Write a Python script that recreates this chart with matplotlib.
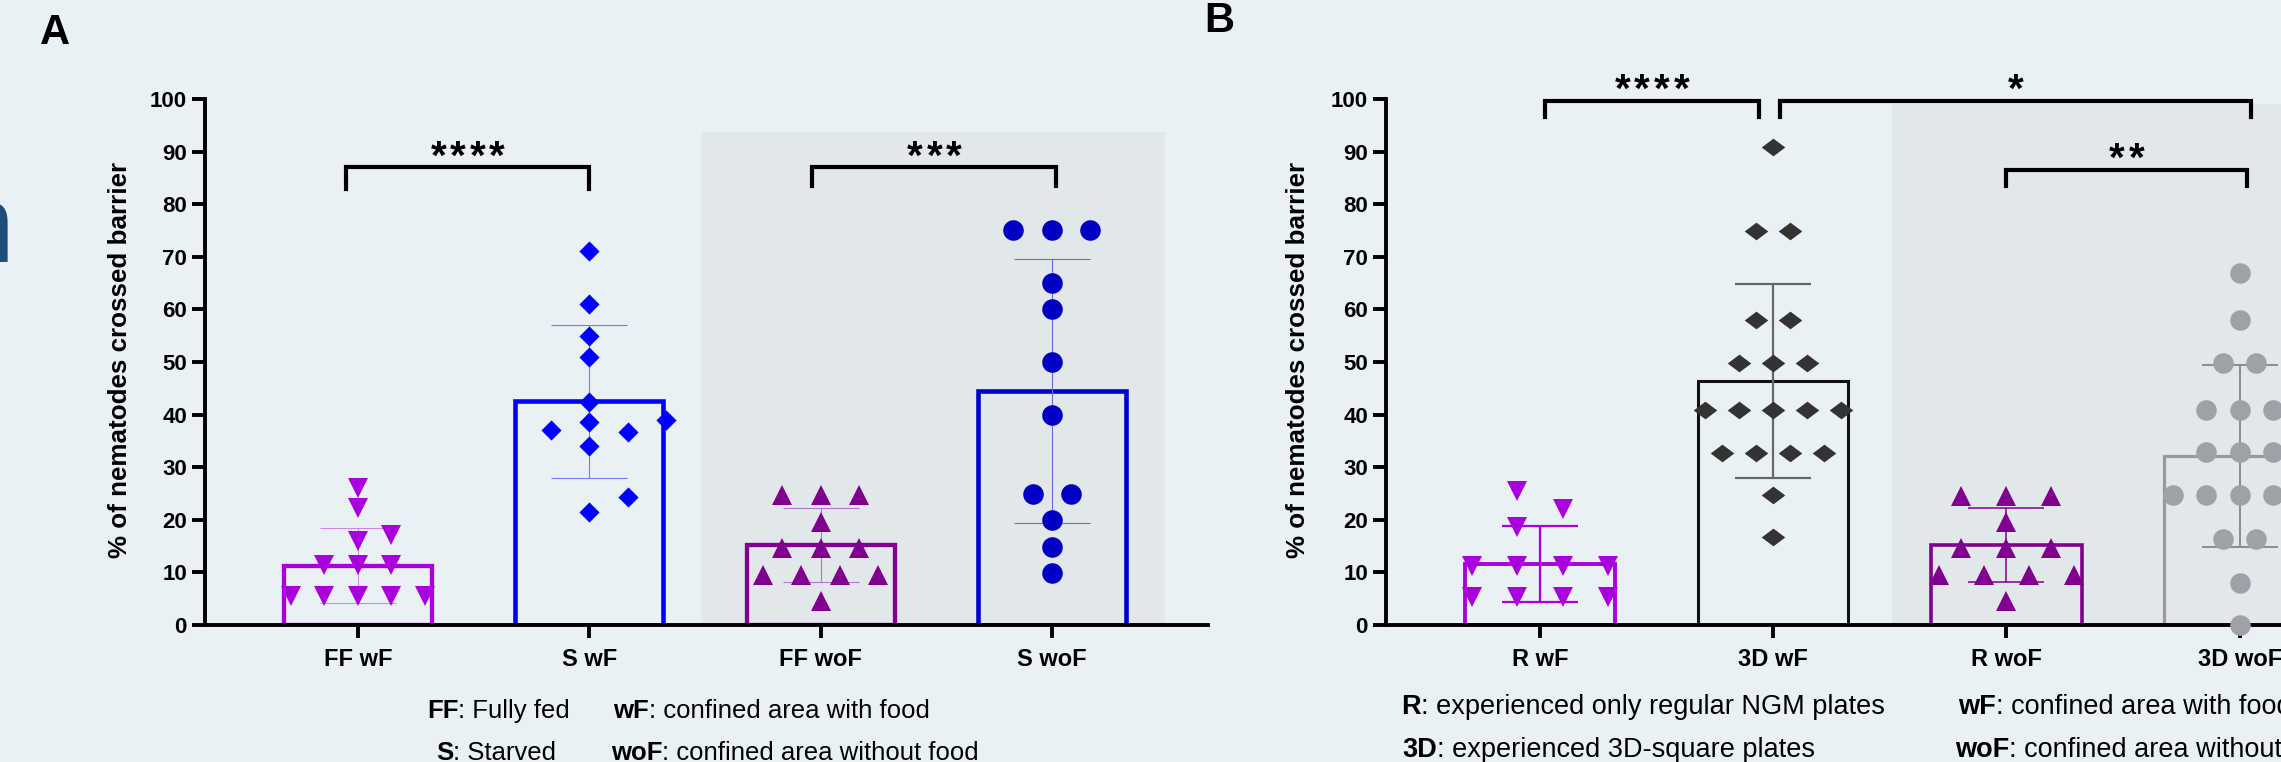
import numpy as np
import matplotlib
matplotlib.use('Agg')
import matplotlib.pyplot as plt
from matplotlib.patches import Rectangle

plt.rcParams['font.family'] = ['Liberation Sans', 'DejaVu Sans']

W, H = 2281, 762

# ---- panel A: fully fed / starved, with / without food ----
a_cats = ['FF wF', 'S wF', 'FF woF', 'S woF']
a_means = [11.3, 42.5, 15.2, 44.4]
a_sd = [7.2, 14.6, 7.0, 25.1]
a_ff_wf = [26.0, 22.2, 17.2, 16.0, 11.4, 11.4, 11.4, 5.5, 5.5, 5.5, 5.5, 5.5]
a_s_wf = [71.1, 61.0, 55.0, 51.0, 42.4, 39.0, 38.6, 37.0, 36.7, 34.0, 24.4, 21.4]
a_ff_wof = [24.8, 24.8, 24.8, 19.5, 14.6, 14.6, 14.6, 9.5, 9.5, 9.5, 9.5, 4.5]
a_s_wof = [75.1, 75.1, 75.1, 65.1, 60.1, 50.0, 40.0, 24.9, 24.9, 19.9, 14.9, 9.8]
a_sig = [(0, 1, 87.0, 4), (2, 3, 87.0, 3)]

# ---- panel B: regular vs 3D-square plates ----
b_cats = ['R wF', '3D wF', 'R woF', '3D woF']
b_means = [11.6, 46.4, 15.2, 32.2]
b_sd = [7.3, 18.5, 7.0, 17.3]
b_r_wf = [25.5, 22.0, 18.6, 11.2, 11.2, 11.2, 11.2, 5.4, 5.4, 5.4, 5.4]
b_3d_wf = [90.9, 74.9, 74.9, 57.9, 57.9, 49.9, 49.9, 49.9, 40.8, 40.8, 40.8, 40.8, 40.8,
           32.7, 32.7, 32.7, 32.7, 24.8, 16.7]
b_r_wof = [24.6, 24.6, 24.6, 19.5, 14.6, 14.6, 14.6, 9.5, 9.5, 9.5, 9.5, 4.5]
b_3d_wof = [66.9, 57.9, 49.8, 49.8, 40.9, 40.9, 40.9, 32.9, 32.9, 32.9,
            24.7, 24.7, 24.7, 24.7, 24.7, 16.4, 16.4, 7.9, 0.0]
b_sig = [(0, 1, 99.7, 4), (1, 3, 99.7, 1), (2, 3, 86.5, 2)]


def swarm(vals, step, half=False, thr=3.6):
    # spread points sideways like a column scatter: equal values make a centred row,
    # a lone point moves to the nearest free slot if it would sit on a neighbour
    vals = np.asarray(vals, float)
    offs = np.zeros(len(vals))
    placed = []
    k = np.arange(1, 6)
    if half:
        slots = np.ravel(np.column_stack([-(k - 0.5), k - 0.5]))
    else:
        slots = np.concatenate([[0], np.ravel(np.column_stack([k, -k]))])
    for v in np.unique(vals):
        idx = np.flatnonzero(vals == v)
        n = len(idx)
        if n > 1:
            row = (np.arange(n) - (n - 1) / 2) * step
        else:
            for s in slots:
                x = s * step
                if all(abs(x - px) > 0.9 * step or abs(v - py) > thr for px, py in placed):
                    break
            row = [x]
        for i, x in zip(idx, row):
            offs[i] = x
            placed.append((x, v))
    return offs


dia_a = [(-1, 0), (0, 1), (1, 0), (0, -1)]
dia_b = [(-1, 0), (0, 0.75), (1, 0), (0, -0.75)]

a_style = [
    dict(mc='#AA00DD', m='v', ms=14.5, bc='#AA00DD', blw=3.1, ec='#CC88F0', elw=0.8, step=0.145, half=False),
    dict(mc='#0000FF', m=dia_a, ms=14.5, bc='#0000FF', blw=3.3, ec='#7878FF', elw=0.8, step=0.167, half=False),
    dict(mc='#800090', m='^', ms=14.5, bc='#800090', blw=3.1, ec='#B078C8', elw=0.8, step=0.166, half=False),
    dict(mc='#0000C4', m='o', ms=14.8, bc='#0000CC', blw=3.3, ec='#6868E0', elw=0.8, step=0.166, half=False),
]
b_style = [
    dict(mc='#AA00DD', m='v', ms=14.5, bc='#AA00DD', blw=2.8, ec='#AA00DD', elw=1.6, step=0.195, half=True),
    dict(mc='#333333', m=dia_b, ms=17.0, bc='#111111', blw=2.2, ec='#666666', elw=1.6, step=0.146, half=False),
    dict(mc='#800090', m='^', ms=14.5, bc='#800090', blw=2.6, ec='#800090', elw=1.1, step=0.193, half=False),
    dict(mc='#A0A0A8', m='o', ms=14.8, bc='#999999', blw=2.3, ec='#8C8C8C', elw=1.4, step=0.143, half=False),
]

bg = '#EAF1F5'
shade = '#E2E7EA'

fig = plt.figure(figsize=(W / 100, H / 100), dpi=100, facecolor=bg)

# full-figure overlay for loose text, y runs downward in pixels
ax0 = fig.add_axes([0, 0, 1, 1])
ax0.set_xlim(0, W)
ax0.set_ylim(H, 0)
ax0.axis('off')


def stars(ax, x, y, n):
    # GraphPad spaces its asterisks wider than the font does
    for k in range(n):
        ax.annotate('*', (x, y), xytext=((k - (n - 1) / 2) * 14.1, 0), textcoords='offset points',
                    ha='center', va='baseline', fontsize=29, fontweight='bold',
                    annotation_clip=False)


def panel(left, cats, means, sd, groups, style, sig, xlim, span, legs, bw):
    ax = fig.add_axes([left / W, (H - 625) / H, 1003 / W, 526 / H])
    ax.set_facecolor('none')
    ax.add_patch(Rectangle((span[0], 0), span[1] - span[0], span[2], color=shade, lw=0, zorder=0.5))
    pos = np.arange(len(cats))
    for i, st in enumerate(style):
        ax.bar(pos[i], means[i], width=bw, facecolor='none', edgecolor=st['bc'],
               lw=st['blw'], zorder=2)
        ax.errorbar(pos[i], means[i], yerr=sd[i], fmt='none', ecolor=st['ec'],
                    elinewidth=st['elw'], capsize=27.7, capthick=st['elw'], zorder=3)
        offs = swarm(groups[i], st['step'], st['half'])
        ax.plot(pos[i] + offs, groups[i], ls='none', marker=st['m'], ms=st['ms'],
                color=st['mc'], mew=0, zorder=4, clip_on=False)
    for (i, j, y, n), (d1, d2, leg) in zip(sig, legs):
        x1, x2 = i + d1, j + d2
        ax.plot([x1, x1, x2, x2], [y - leg, y, y, y - leg], color='black', lw=3,
                clip_on=False, solid_joinstyle='miter', zorder=5)
        stars(ax, (x1 + x2) / 2, y - 0.2, n)
    ax.set_xlim(*xlim)
    ax.set_ylim(0, 100)
    ax.set_yticks(np.arange(0, 101, 10))
    ax.set_xticks(pos)
    ax.set_xticklabels(cats)
    for s in ['top', 'right']:
        ax.spines[s].set_visible(False)
    for s in ['left', 'bottom']:
        ax.spines[s].set_linewidth(2.8)
    ax.tick_params(width=2.8, length=9.4, labelsize=16, pad=3.6)
    ax.tick_params(axis='x', labelsize=17, pad=7)
    for lab in ax.get_xticklabels() + ax.get_yticklabels():
        lab.set_fontweight('bold')
    return ax


axA = panel(205, a_cats, a_means, a_sd, [a_ff_wf, a_s_wf, a_ff_wof, a_s_wof], a_style,
            a_sig, (-0.661, 3.675), (1.485, 3.49, 93.7), [(-0.05, 0, 4.2), (-0.035, 0.02, 3.6)], 0.64)
axB = panel(1386, b_cats, b_means, b_sd, [b_r_wf, b_3d_wf, b_r_wof, b_3d_wof], b_style,
            b_sig, (-0.66, 3.64), (1.51, 3.7, 99.0), [(0.02, -0.06, 3.2), (0.03, 0.05, 3.2), (0, 0.03, 3.1)], 0.645)

# y labels, panel letters
for x in (120, 1298):
    ax0.text(x, 360, '% of nematodes crossed barrier', rotation=90, ha='center', va='center',
             fontsize=18.7, fontweight='bold')
ax0.text(40, 44, 'A', fontsize=30, fontweight='bold', va='baseline')
ax0.text(1204, 32, 'B', fontsize=30, fontweight='bold', va='baseline')
ax0.text(14, 262, 'n', fontsize=80, color='#1F4E79', ha='right', va='baseline')


def keytext(x, y, key, desc, size):
    t = ax0.text(x, y, key, fontsize=size, fontweight='bold', va='baseline')
    ax0.annotate(desc, xy=(1, 0), xycoords=t, va='bottom', fontsize=size)


keytext(427, 718, 'FF', ': Fully fed', 18.5)
keytext(436, 760, 'S', ': Starved', 18.5)
keytext(613, 718, 'wF', ': confined area with food', 18.5)
keytext(611, 760, 'woF', ': confined area without food', 18.5)
keytext(1401, 714, 'R', ': experienced only regular NGM plates', 19.5)
keytext(1402, 757, '3D', ': experienced 3D-square plates', 19.5)
keytext(1958, 714, 'wF', ': confined area with food', 19.5)
keytext(1955, 757, 'woF', ': confined area without food', 19.5)

fig.savefig('out.png', dpi=100, facecolor=bg)
